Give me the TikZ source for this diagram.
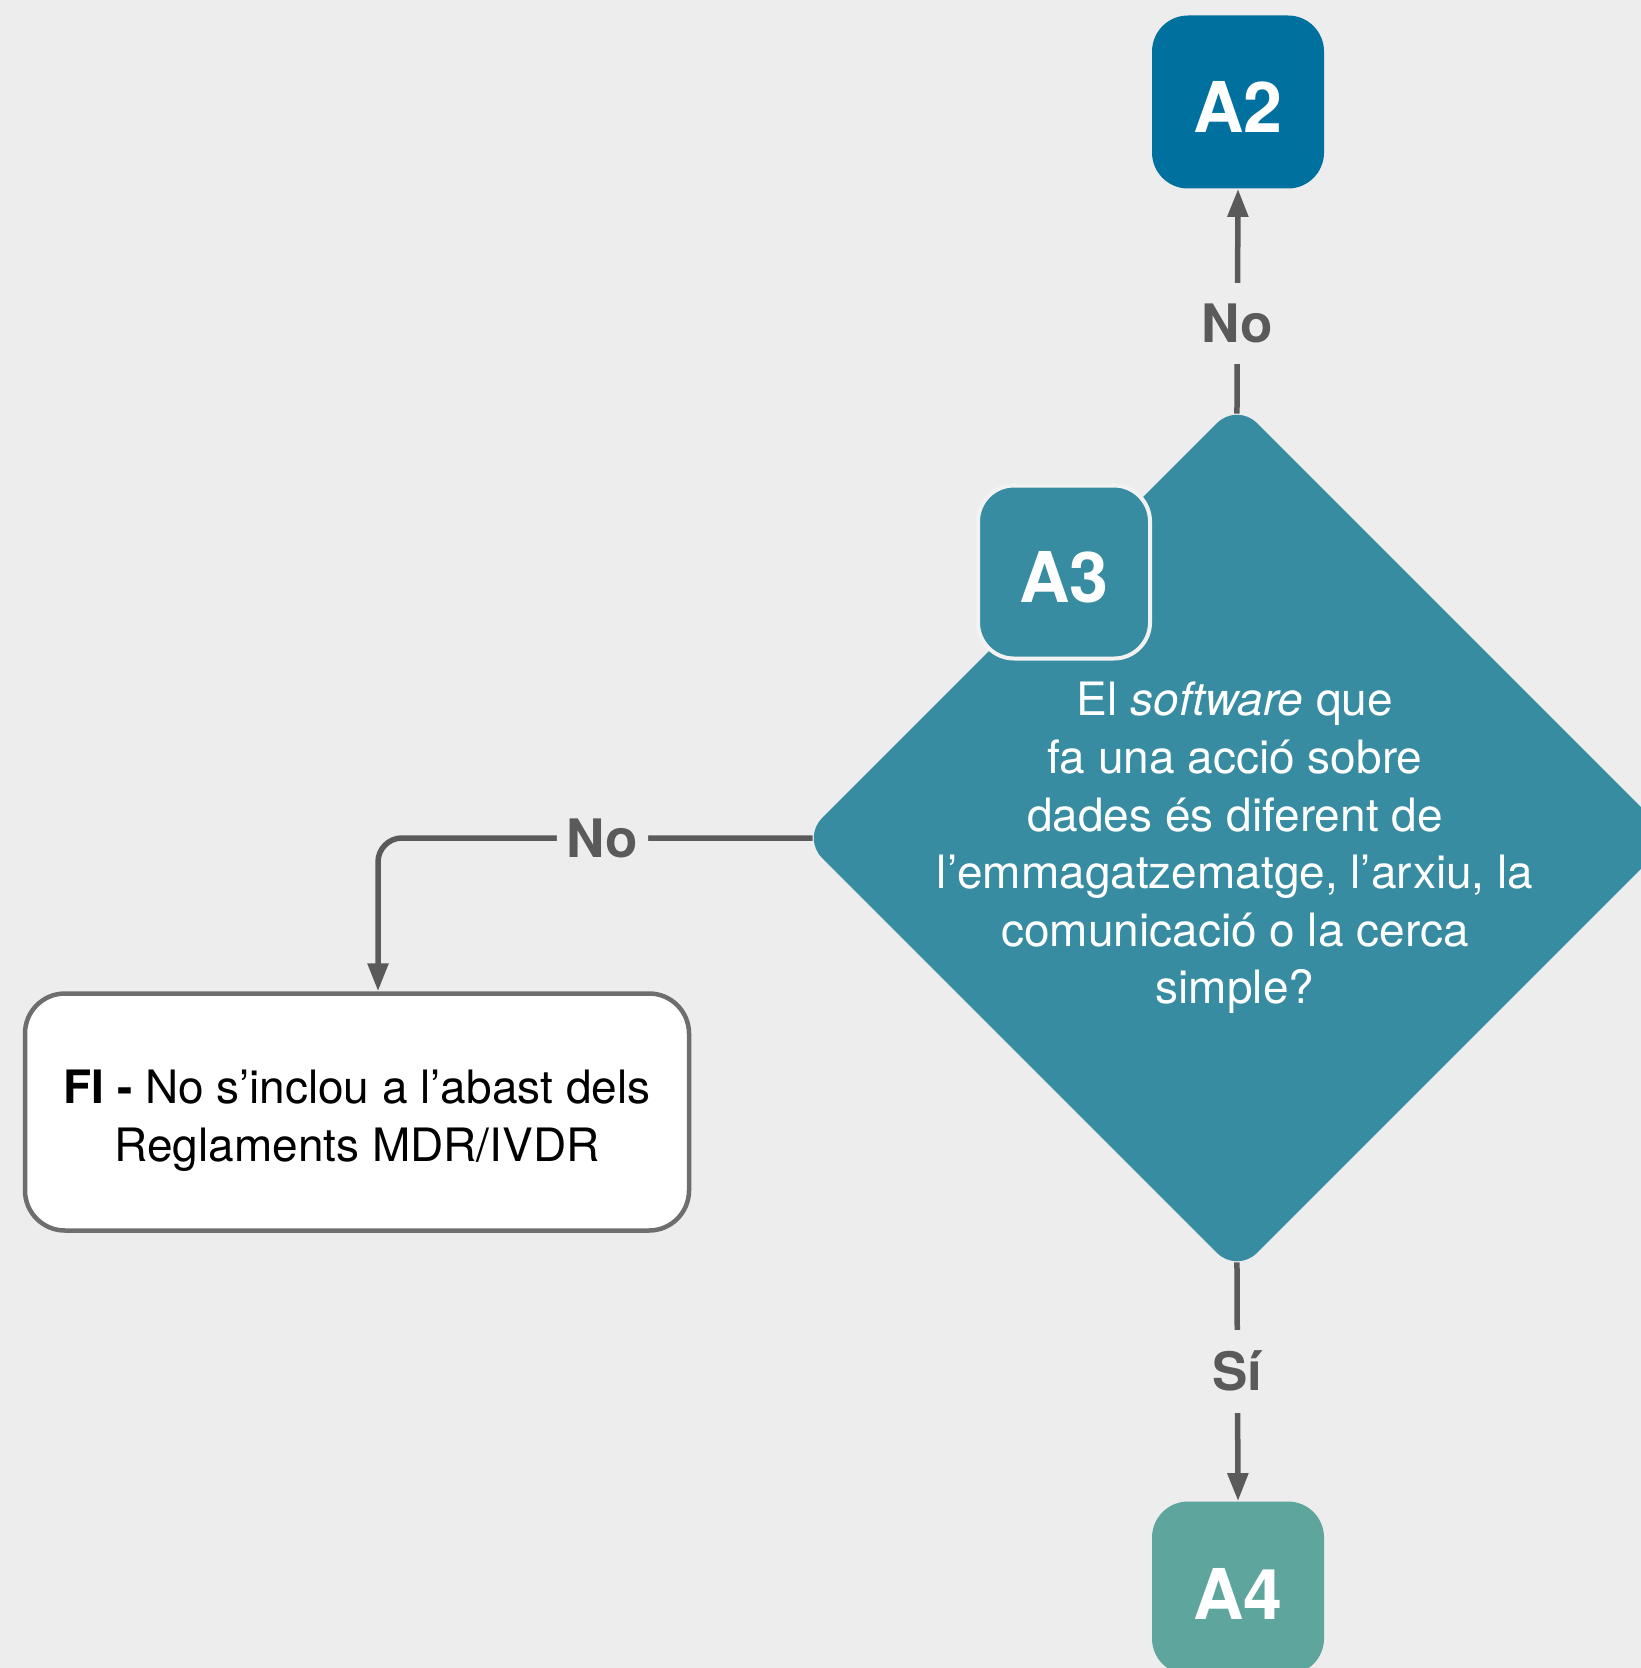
\documentclass[tikz,border=0pt]{standalone}
\usepackage{fontspec}
\setmainfont{TeX Gyre Heros}
\usetikzlibrary{shapes.geometric,arrows.meta}

\definecolor{bgcol}{HTML}{EDEDED}
\definecolor{blueA}{HTML}{00719F}
\definecolor{tealA}{HTML}{378CA1}
\definecolor{greenA}{HTML}{5EA69D}
\definecolor{linecol}{HTML}{5A5A5A}
\definecolor{boxcol}{HTML}{6E6E6E}

\tikzset{
  stepbox/.style={rectangle, rounded corners=18pt, minimum width=86pt,
    minimum height=86.5pt, inner sep=0pt, text=white, text height=31pt,
    font=\fontsize{35pt}{35pt}\selectfont\bfseries},
  decision/.style={diamond, fill=tealA, rounded corners=14pt,
    minimum width=435pt, minimum height=435pt, inner sep=0pt},
  endbox/.style={rectangle, draw=boxcol, line width=2.25pt, fill=white,
    rounded corners=20pt, minimum width=332pt, minimum height=118.5pt},
  bodytext/.style={align=center, font=\fontsize{23pt}{28.8pt}\selectfont},
  conn/.style={draw=linecol, line width=2.75pt, shorten <=-5.5pt,
    -{Triangle[width=10pt,length=14pt]}},
  answer/.style={fill=bgcol, text=linecol, inner xsep=5pt, inner ysep=10.5pt,
    font=\fontsize{26.5pt}{26.5pt}\selectfont\bfseries}
}

\begin{document}
\begin{tikzpicture}[x=0.5pt,y=-0.5pt]
  % Page and background
  \useasboundingbox (0,0) rectangle (1641,1668);
  \clip (0,0) rectangle (1641,1668);
  \fill[bgcol] (0,0) rectangle (1641,1668);

  % Decision and its steps
  \node[decision] (dia) at (1237,838) {};
  \node[stepbox, fill=blueA] (a2) at (1238,102) {A2};
  \node[stepbox, fill=tealA, draw=white!90!gray, line width=2pt] (a3) at (1064,572) {A3};
  \node[stepbox, fill=greenA] (a4) at (1238,1588) {A4};

  % Question text
  \node[bodytext, text=white] (q) at (1235,848)
    {El \textit{software} que\\ fa una acció sobre\\ dades és diferent de\\
     l’emmagatzematge, l’arxiu, la\\ comunicació o la cerca\\ simple?};

  % End box
  \node[endbox] (fi) at (357,1112) {};
  \node[bodytext] (fitext) at ([yshift=-4.5pt]fi.center)
    {\textbf{FI -} No s’inclou a l’abast dels\\ Reglaments MDR/IVDR};

  % Connectors
  \draw[conn] (dia.north) -- node[answer, pos=0.37] {No} (a2.south);
  \draw[conn, rounded corners=12pt] (dia.west) -| node[answer, pos=0.235] {No}
    ([xshift=10.5pt]fi.north);
  \draw[conn] (dia.south) -- node[answer, pos=0.43] {Sí} (a4.north);

\end{tikzpicture}
\end{document}
